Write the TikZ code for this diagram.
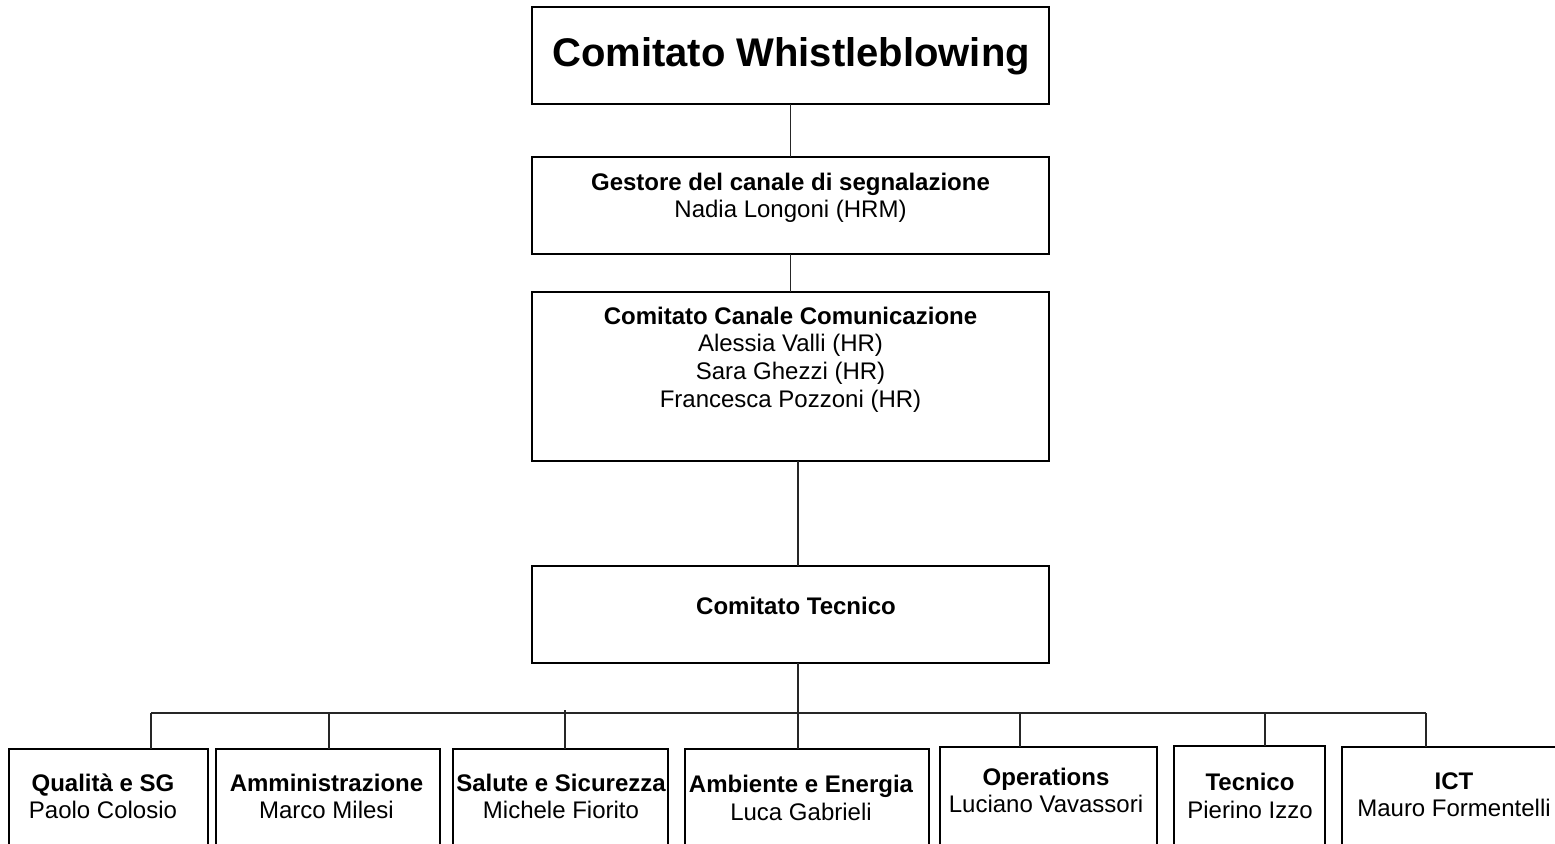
\documentclass[tikz,border=0pt]{standalone}
\usepackage{fontspec}
\setmainfont{Liberation Sans}
\usetikzlibrary{fit}
\begin{document}
\begin{tikzpicture}[x=0.75pt,y=-0.75pt,
  box/.style={draw=black, line width=1.1pt, inner sep=0pt, outer sep=0pt},
  conn/.style={draw=black!85, line width=1.2pt},
  hd/.style={font=\fontsize{18}{21}\selectfont\bfseries, inner sep=0pt, anchor=base},
  nm/.style={font=\fontsize{18}{21}\selectfont, inner sep=0pt, anchor=base},
  ttl/.style={font=\fontsize{30}{34}\selectfont\bfseries, inner sep=0pt, anchor=base}]
\useasboundingbox (0,0) rectangle (1555,843);
\clip (0,0) rectangle (1555,843);
\fill[white] (0,0) rectangle (1555,843);

% upper boxes
\node[box, fit={(532,7) (1049,104)}] (wb) {};
\node[box, fit={(532,157) (1049,254)}] (gc) {};
\node[box, fit={(532,292) (1049,461)}] (ccc) {};
\node[box, fit={(532,566) (1049,663)}] (ct) {};

% lower boxes
\node[box, fit={(9,749) (208,880)}] (q) {};
\node[box, fit={(216,749) (440,880)}] (am) {};
\node[box, fit={(453,749) (668,880)}] (sa) {};
\node[box, fit={(685,749) (929,880)}] (ae) {};
\node[box, fit={(940,747) (1157,880)}] (op) {};
\node[box, fit={(1174,746) (1325,880)}] (te) {};
\node[box, fit={(1342,747) (1566,880)}] (ict) {};

% texts
\node[ttl] (wbt) at (791,66) {Comitato Whistleblowing};
\node[hd] (gc1) at (790.5,190.5) {Gestore del canale di segnalazione};
\node[nm] (gc2) at (790.5,217) {Nadia Longoni (HRM)};
\node[hd] (ccc1) at (790.5,324) {Comitato Canale Comunicazione};
\node[nm] (ccc2) at (790.5,351.5) {Alessia Valli (HR)};
\node[nm] (ccc3) at (790.5,379) {Sara Ghezzi (HR)};
\node[nm] (ccc4) at (790.5,407) {Francesca Pozzoni (HR)};
\node[hd] (ct1) at (796,614) {Comitato Tecnico};

\node[hd] (q1) at (103,791) {Qualità e SG};
\node[nm] (q2) at (103,818) {Paolo Colosio};
\node[hd] (am1) at (326.5,791) {Amministrazione};
\node[nm] (am2) at (326.5,818) {Marco Milesi};
\node[hd] (sa1) at (561,791) {Salute e Sicurezza};
\node[nm] (sa2) at (561,818) {Michele Fiorito};
\node[hd] (ae1) at (801,792) {Ambiente e Energia};
\node[nm] (ae2) at (801,820) {Luca Gabrieli};
\node[hd] (op1) at (1046,785) {Operations};
\node[nm] (op2) at (1046,812.5) {Luciano Vavassori};
\node[hd] (te1) at (1250,790.5) {Tecnico};
\node[nm] (te2) at (1250,818) {Pierino Izzo};
\node[hd] (ict1) at (1454,789) {ICT};
\node[nm] (ict2) at (1454,816.5) {Mauro Formentelli};

% connectors
\coordinate (tr) at (798,713);
\coordinate (dq) at (151,713);
\coordinate (dam) at (329,713);
\coordinate (dsa) at (565,710);
\coordinate (dop) at (1020,713);
\coordinate (dte) at (1265,713);
\coordinate (dict) at (1426,713);

\draw[conn] (wb.south) -- (gc.north);
\draw[conn] (gc.south) -- (ccc.north);
\draw[conn] (ccc.south -| tr) -- (ct.north -| tr);
\draw[conn] (ct.south -| tr) -- (ae.north -| tr);
\draw[conn] (dq) -- (dict);
\draw[conn] (dq) -- (dq |- q.north);
\draw[conn] (dam) -- (dam |- am.north);
\draw[conn] (dsa) -- (dsa |- sa.north);
\draw[conn] (dop) -- (dop |- op.north);
\draw[conn] (dte) -- (dte |- te.north);
\draw[conn] (dict) -- (dict |- ict.north);
\end{tikzpicture}
\end{document}
